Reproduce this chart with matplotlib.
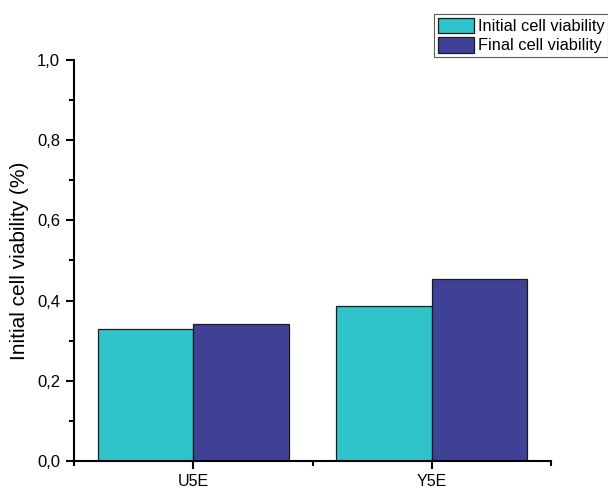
import matplotlib
matplotlib.use("Agg")
import matplotlib.pyplot as plt
import numpy as np
from matplotlib.ticker import MultipleLocator, FuncFormatter

categories = ["U5E", "Y5E"]
initial = [0.329, 0.387]
final = [0.342, 0.454]
series_names = ["Initial cell viability", "Final cell viability"]

plt.rcParams['font.family'] = ['Liberation Sans', 'DejaVu Sans']

fig = plt.figure(figsize=(6.08, 4.91), dpi=100)
ax = fig.add_axes([74/608, 1-461/491, (551-74)/608, (461-60)/491])

x = np.arange(len(categories))
w = 0.4
b1 = ax.bar(x - w/2, initial, w, color="#2EC4CA", edgecolor="#1a1a1a", linewidth=0.9, label=series_names[0])
b2 = ax.bar(x + w/2, final, w, color="#3F4196", edgecolor="#1a1a1a", linewidth=0.9, label=series_names[1])

ax.set_xlim(-0.5, 1.5)
ax.set_ylim(0, 1.0)
ax.set_xticks(x)
ax.set_xticklabels(categories)
ax.xaxis.set_minor_locator(MultipleLocator(0.5))
ax.yaxis.set_major_locator(MultipleLocator(0.2))
ax.yaxis.set_minor_locator(MultipleLocator(0.1))
ax.yaxis.set_major_formatter(FuncFormatter(lambda v, p: f"{v:.1f}".replace(".", ",")))

for s in ["top", "right"]:
    ax.spines[s].set_visible(False)
for s in ["left", "bottom"]:
    ax.spines[s].set_linewidth(1.5)
ax.tick_params(axis="both", which="major", direction="out", length=6, width=1.5, labelsize=12, pad=4)
ax.tick_params(axis="x", which="major", labelsize=11.5, pad=3)
ax.tick_params(axis="both", which="minor", direction="out", length=3.5, width=1.5)
ax.set_ylabel("Initial cell viability (%)", fontsize=15, labelpad=6)

leg = fig.legend(handles=[b1, b2], loc="upper left", bbox_to_anchor=(434/608, 1-14/491),
                 fontsize=11.8, frameon=True, fancybox=False, borderpad=0.22,
                 handlelength=2.2, handleheight=1.1, handletextpad=0.25, labelspacing=0.18,
                 borderaxespad=0)
leg.get_frame().set_edgecolor("#333333")
leg.get_frame().set_linewidth(0.8)

fig.savefig("out.png", dpi=100)
